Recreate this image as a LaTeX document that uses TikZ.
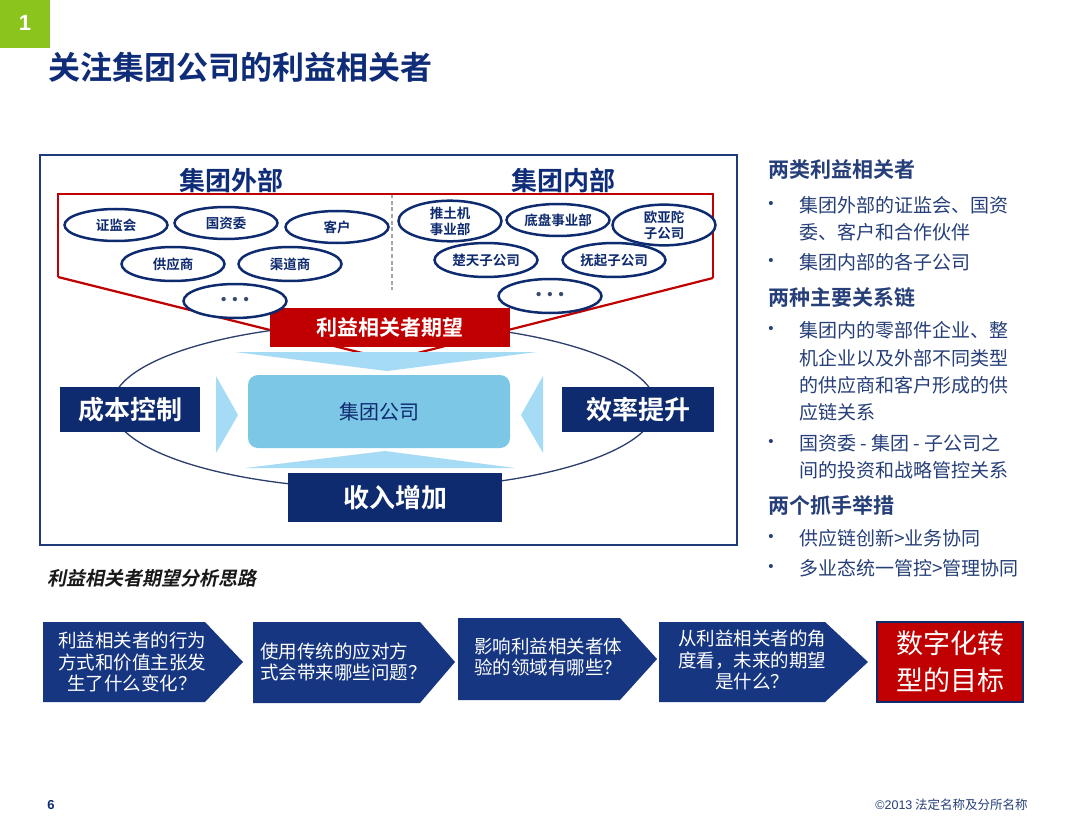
\documentclass[tikz,border=0pt]{standalone}
\usepackage{fontspec}
\setmainfont{Noto Sans CJK SC}[BoldFont={Noto Sans CJK SC Bold}]
\newfontfamily\cjkslant{Noto Sans CJK SC Bold}[FakeSlant=0.2]
\newfontfamily\lat{Liberation Sans}
\usetikzlibrary{shapes.geometric}
\newdimen\px \px=0.75pt
\newcommand\fpx[2]{\fontsize{#1\px}{#2\px}\selectfont}
\definecolor{navy}{HTML}{0F2B6F}
\definecolor{chev}{HTML}{163682}
\definecolor{boxblue}{HTML}{1F3A78}
\definecolor{tblue}{HTML}{263F78}
\definecolor{titleblue}{HTML}{0F2C78}
\definecolor{dred}{HTML}{C00000}
\definecolor{lblue}{HTML}{7CC6E6}
\definecolor{ablue}{HTML}{A6DBF5}
\definecolor{lime}{HTML}{8CC41E}
\definecolor{ringcol}{HTML}{2C3E6B}
\definecolor{dotcol}{HTML}{3A4A6A}
\begin{document}
\begin{tikzpicture}[x=0.75pt,y=-0.75pt,
  sh/.style={ellipse, draw=navy, line width=2.5\px, fill=white, minimum width=103\px, minimum height=32\px, inner sep=0, font=\bfseries\fpx{13.5}{14.5}, text=navy, align=center},
  dotsh/.style={sh, minimum height=34\px, text=dotcol, font=\lat\bfseries\fpx{15}{15}},
  navybox/.style={fill=navy, inner sep=0, text=white, font=\bfseries\fpx{26}{28}},
  head/.style={anchor=west, inner sep=0, text=tblue, font=\bfseries\fpx{21}{24}},
  body/.style={anchor=west, inner sep=0, text=tblue, font=\fpx{19}{27}},
  bul/.style={anchor=center, inner sep=0, text=tblue, font=\lat\fpx{15}{15}},
  chevtext/.style={inner sep=0, text=white, font=\fpx{18.5}{21.5}},
  larrow/.style={fill=ablue}
]
\useasboundingbox[fill=white] (0,0) rectangle (1080,834);

% corner tag and title
\fill[lime] (0,0) rectangle (50,48);
\node[text=white, font=\lat\bfseries\fpx{22}{24}] (num) at (25,23) {1};
\node[anchor=west, inner sep=0, text=titleblue, font=\bfseries\fpx{32}{36}] (title) at (48,67) {关注集团公司的利益相关者};

% main frame
\node[draw=boxblue, line width=2.5\px, fill=white, minimum width=697\px, minimum height=390\px, inner sep=0] (mainbox) at (388.5,350) {};

\node[inner sep=0, text=titleblue, font=\bfseries\fpx{26}{28}] (ext) at (231,181) {集团外部};
\node[inner sep=0, text=titleblue, font=\bfseries\fpx{26}{28}] (int) at (563,181) {集团内部};

% divider
\coordinate (dtop) at (392,194);
\coordinate (dbot) at (392,290);
\draw[gray!70, densely dashed, line width=1.2\px] (dtop) -- (dbot);

% red funnel
\coordinate (f1) at (58,277);
\coordinate (f2) at (58,194);
\coordinate (f3) at (713,194);
\coordinate (f4) at (713,278);
\coordinate (fa) at (390,360);
\draw[dred, line width=2.2\px] (f1) -- (f2) -- (f3) -- (f4);
\draw[dred, line width=2.2\px] (f1) -- (fa) -- (f4);

% ring
\node[ellipse, draw=ringcol, line width=1.3\px, minimum width=544\px, minimum height=166\px, inner sep=0] (ring) at (384,406) {};

% light blue arrows
\fill[larrow] (235,352) -- (537,352) -- (387,371) -- cycle;
\fill[larrow] (245,468) -- (515,468) -- (385,451) -- cycle;
\fill[larrow] (216,376) -- (238,415) -- (216,453) -- cycle;
\fill[larrow] (543,376) -- (521,415) -- (543,453) -- cycle;

% centre
\node[fill=lblue, rounded corners=10\px, minimum width=262\px, minimum height=73\px, inner sep=0, text=navy, font=\fpx{20}{22}] (group) at (379,411.5) {集团公司};

\node[fill=dred, minimum width=240\px, minimum height=39\px, inner sep=0, text=white, font=\bfseries\fpx{21}{23}] (expect) at (390,327.5) {利益相关者期望};

\node[navybox, minimum width=140\px, minimum height=45\px] (cost) at (130,409.5) {成本控制};
\node[navybox, minimum width=152\px, minimum height=45\px] (eff) at (638,409.5) {效率提升};
\node[navybox, minimum width=214\px, minimum height=49\px] (rev) at (395,497.5) {收入增加};

% stakeholders outside
\node[sh] (zjh) at (116,225) {证监会};
\node[sh] (gzw) at (226,223) {国资委};
\node[sh] (kh) at (337,227) {客户};
\node[sh, minimum height=34\px] (gys) at (173,264) {供应商};
\node[sh, minimum height=34\px] (qds) at (290,264) {渠道商};
\node[dotsh] (dots1) at (235,301) {•\hspace{6\px}•\hspace{6\px}•};

% stakeholders inside
\node[sh, font=\bfseries\fpx{13.5}{16}] (ttj) at (450,221) {推土机\\事业部};
\node[sh] (dp) at (558,220) {底盘事业部};
\node[sh, font=\bfseries\fpx{13.5}{16}] (oyt) at (664,225) {欧亚陀\\子公司};
\node[sh, minimum height=34\px] (ct) at (486,260) {楚天子公司};
\node[sh, minimum height=34\px] (fq) at (614,260) {抚起子公司};
\node[dotsh] (dots2) at (550,296) {•\hspace{6\px}•\hspace{6\px}•};

% right panel
\node[head] (h1) at (768,170) {两类利益相关者};
\node[bul] (b1) at (771,205) {•};
\node[body] (t1a) at (799,205) {集团外部的证监会、国资};
\node[body] (t1b) at (799,232) {委、客户和合作伙伴};
\node[bul] (b2) at (771,262) {•};
\node[body] (t2a) at (799,262) {集团内部的各子公司};
\node[head] (h2) at (768,297) {两种主要关系链};
\node[bul] (b3) at (771,330) {•};
\node[body] (t3a) at (799,330) {集团内的零部件企业、整};
\node[body] (t3b) at (799,358) {机企业以及外部不同类型};
\node[body] (t3c) at (799,385) {的供应商和客户形成的供};
\node[body] (t3d) at (799,412) {应链关系};
\node[bul] (b4) at (771,443) {•};
\node[body] (t4a) at (799,443) {国资委 - 集团 - 子公司之};
\node[body] (t4b) at (799,470) {间的投资和战略管控关系};
\node[head] (h3) at (768,505) {两个抓手举措};
\node[bul] (b5) at (771,538) {•};
\node[body] (t5a) at (799,538) {供应链创新>业务协同};
\node[bul] (b6) at (771,568) {•};
\node[body] (t6a) at (799,568) {多业态统一管控>管理协同};

% analysis label
\node[anchor=west, inner sep=0, text=black!90, font=\cjkslant\fpx{19}{20}] (lbl) at (47,578) {利益相关者期望分析思路};

% chevrons
\fill[chev] (43,622) -- (205,622) -- (243,662) -- (205,702) -- (43,702) -- cycle;
\fill[chev] (253,622) -- (420,622) -- (455,662) -- (420,703) -- (253,703) -- cycle;
\fill[chev] (458,618) -- (620,618) -- (657,659) -- (620,700) -- (458,700) -- cycle;
\fill[chev] (659,622) -- (825,622) -- (868,662) -- (825,702) -- (659,702) -- cycle;

\node[chevtext, align=center] (c1) at (132,662) {利益相关者的行为\\方式和价值主张发\\生了什么变化？};
\node[chevtext, align=left, anchor=west] (c2) at (260,662) {使用传统的应对方\\式会带来哪些问题？};
\node[chevtext, align=left, anchor=west] (c3) at (474,657) {影响利益相关者体\\验的领域有哪些？};
\node[chevtext, align=center] (c4) at (752,660) {从利益相关者的角\\度看，未来的期望\\是什么？};

\node[fill=dred, draw=navy, line width=1.5\px, minimum width=146\px, minimum height=80\px, inner sep=0, text=white, align=center, font=\fpx{27}{37}] (goal) at (950,662) {数字化转\\型的目标};

% footer
\node[inner sep=0, text=titleblue, font=\lat\bfseries\fpx{13}{14}] (pg) at (51,805) {6};
\node[anchor=east, inner sep=0, text=tblue, font=\fpx{12.5}{14}] (cr) at (1028,805) {{\lat ©2013} 法定名称及分所名称};
\end{tikzpicture}
\end{document}
